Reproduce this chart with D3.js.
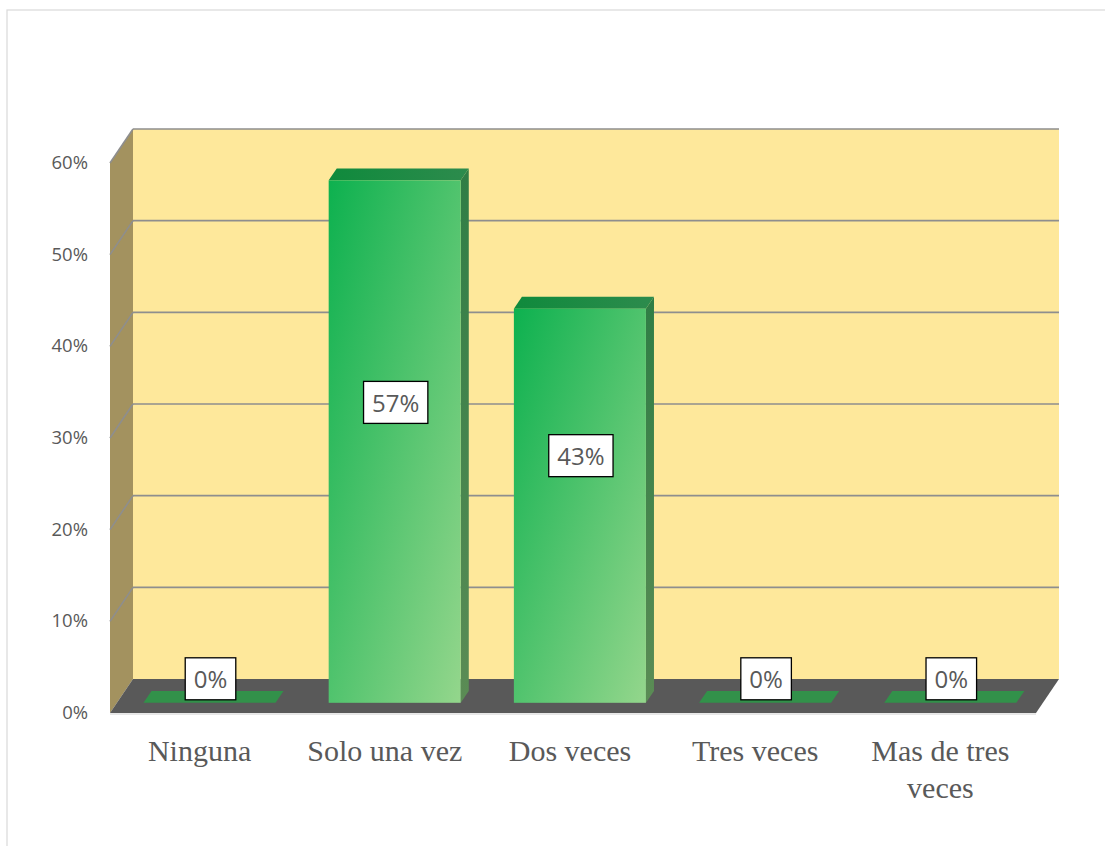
<!DOCTYPE html>
<html>
<head>
<meta charset="utf-8">
<script src="https://cdn.jsdelivr.net/npm/d3@7"></script>
<style>
  html, body { margin: 0; padding: 0; background: #fff; }
  svg { display: block; }
</style>
</head>
<body>
<svg width="1105" height="846"></svg>
<script>
const svg = d3.select("svg");

// Data
const categories = ["Ninguna", "Solo una vez", "Dos veces", "Tres veces", "Mas de tres veces"];
const values = [0, 0.57, 0.43, 0, 0];
const labels = ["0%", "57%", "43%", "0%", "0%"];
const yTicks = [0, 0.1, 0.2, 0.3, 0.4, 0.5, 0.6];

// 3D geometry: front plane scales + depth offset
const x0 = 110, plotW = 926;
const DX = 23, DY = 34;
const zFront = 0.3, zBack = 0.65;

const x = d3.scaleBand().domain(categories).range([x0, x0 + plotW]).paddingInner(0.287).paddingOuter(0.1435);
const y = d3.scaleLinear().domain([0, 0.6]).range([713, 163]);

const px = (xx, z) => xx + DX * z;
const py = (v, z) => y(v) - DY * z;
const pt = (xx, v, z) => [px(xx, z), py(v, z)];
const poly = pts => "M" + pts.map(p => p.join(",")).join("L") + "Z";

// outer border
svg.append("rect")
  .attr("x", 7).attr("y", 10)
  .attr("width", 1200).attr("height", 1000)
  .attr("fill", "#fff")
  .attr("stroke", "#d9d9d9").attr("stroke-width", 1.2);

// gradients
const defs = svg.append("defs");
const gFront = defs.append("linearGradient").attr("id", "barFront")
  .attr("x1", 0).attr("y1", 0).attr("x2", 1).attr("y2", 1);
gFront.append("stop").attr("offset", "0%").attr("stop-color", "#0db14f");
gFront.append("stop").attr("offset", "100%").attr("stop-color", "#94d68c");

const gTop = defs.append("linearGradient").attr("id", "barTop")
  .attr("x1", 0).attr("y1", 0).attr("x2", 1).attr("y2", 0);
gTop.append("stop").attr("offset", "0%").attr("stop-color", "#0f8a3c");
gTop.append("stop").attr("offset", "100%").attr("stop-color", "#2d8b4d");

const gSide = defs.append("linearGradient").attr("id", "barSide")
  .attr("x1", 0).attr("y1", 0).attr("x2", 0).attr("y2", 1);
gSide.append("stop").attr("offset", "0%").attr("stop-color", "#2f7d45");
gSide.append("stop").attr("offset", "100%").attr("stop-color", "#5b8c55");

// Walls
const [vMin, vMax] = y.domain();
svg.append("path")
  .attr("d", poly([pt(x0, vMin, 1), pt(x0 + plotW, vMin, 1), pt(x0 + plotW, vMax, 1), pt(x0, vMax, 1)]))
  .attr("fill", "#fee89b");

svg.append("path")
  .attr("d", poly([pt(x0, vMin, 0), pt(x0, vMin, 1), pt(x0, vMax, 1), pt(x0, vMax, 0)]))
  .attr("fill", "#a3925f");

// Floor
svg.append("path")
  .attr("d", poly([pt(x0, 0, 0), pt(x0 + plotW, 0, 0), pt(x0 + plotW, 0, 1), pt(x0, 0, 1)]))
  .attr("fill", "#595959");
svg.append("line")
  .attr("x1", px(x0, 0)).attr("x2", px(x0 + plotW, 0))
  .attr("y1", py(0, 0) + 1).attr("y2", py(0, 0) + 1)
  .attr("stroke", "#d0d0d0").attr("stroke-width", 1);

// Gridlines (back wall + side wall)
const grid = svg.append("g").attr("stroke", "#8e8e8e").attr("stroke-width", 1.6).attr("fill", "none");
yTicks.filter(t => t > 0).forEach(t => {
  grid.append("line")
    .attr("x1", px(x0, 1)).attr("x2", px(x0 + plotW, 1))
    .attr("y1", py(t, 1)).attr("y2", py(t, 1));
  grid.append("line")
    .attr("x1", px(x0, 0)).attr("x2", px(x0, 1))
    .attr("y1", py(t, 0)).attr("y2", py(t, 1));
});

// Y axis labels
svg.append("g").selectAll("text")
  .data(yTicks)
  .join("text")
  .attr("x", 88)
  .attr("y", d => y(d) + 1)
  .attr("text-anchor", "end")
  .attr("dominant-baseline", "middle")
  .attr("font-family", "'Open Sans', sans-serif")
  .attr("font-size", 18.5)
  .attr("fill", "#595959")
  .text(d => d3.format(".0%")(d));

// Bars
const bars = svg.append("g").selectAll("g")
  .data(categories.map((c, i) => ({ c, v: values[i], label: labels[i] })))
  .join("g");

bars.each(function(d) {
  const g = d3.select(this);
  const xl = x(d.c), xr = x(d.c) + x.bandwidth();
  if (d.v === 0) {
    g.append("path")
      .attr("d", poly([pt(xl, 0, zFront), pt(xr, 0, zFront), pt(xr, 0, zBack), pt(xl, 0, zBack)]))
      .attr("fill", "#32914a");
    return;
  }
  // side
  g.append("path")
    .attr("d", poly([pt(xr, 0, zFront), pt(xr, 0, zBack), pt(xr, d.v, zBack), pt(xr, d.v, zFront)]))
    .attr("fill", "url(#barSide)");
  // top
  g.append("path")
    .attr("d", poly([pt(xl, d.v, zFront), pt(xr, d.v, zFront), pt(xr, d.v, zBack), pt(xl, d.v, zBack)]))
    .attr("fill", "url(#barTop)");
  // front
  g.append("rect")
    .attr("x", px(xl, zFront))
    .attr("y", py(d.v, zFront))
    .attr("width", x.bandwidth())
    .attr("height", py(0, zFront) - py(d.v, zFront))
    .attr("fill", "url(#barFront)");
});

// Data labels
const labelOffset = h => 24 + 0.68 * h - 0.000289 * h * h;
bars.each(function(d) {
  const g = d3.select(this);
  const cx = px(x(d.c) + x.bandwidth() / 2, zFront) + 1;
  const h = py(0, zFront) - py(d.v, zFront);
  const cy = py(0, zFront) - labelOffset(h);
  const t = g.append("text")
    .attr("x", cx).attr("y", cy)
    .attr("text-anchor", "middle")
    .attr("dominant-baseline", "central")
    .attr("font-family", "'Open Sans', sans-serif")
    .attr("font-size", 24)
    .attr("fill", "#595959")
    .text(d.label);
  const w = t.node().getComputedTextLength();
  g.insert("rect", "text")
    .attr("x", cx - w / 2 - 8.5).attr("y", cy - 21)
    .attr("width", w + 17).attr("height", 42)
    .attr("fill", "#fff")
    .attr("stroke", "#000").attr("stroke-width", 1.3);
});

// Category labels (wrapped)
const catG = svg.append("g")
  .attr("font-family", "'Liberation Serif', 'Times New Roman', serif")
  .attr("font-size", 30)
  .attr("fill", "#595959")
  .attr("text-anchor", "middle");

categories.forEach(c => {
  const cx = x(c) + x.bandwidth() / 2 - 3;
  const text = catG.append("text").attr("x", cx).attr("y", 761);
  const words = c.split(" ");
  let line = [];
  let tspan = text.append("tspan").attr("x", cx).attr("dy", 0);
  words.forEach(wd => {
    line.push(wd);
    tspan.text(line.join(" "));
    if (tspan.node().getComputedTextLength() > x.step() * 0.92 && line.length > 1) {
      line.pop();
      tspan.text(line.join(" "));
      line = [wd];
      tspan = text.append("tspan").attr("x", cx).attr("dy", 37).text(wd);
    }
  });
});
</script>
</body>
</html>
